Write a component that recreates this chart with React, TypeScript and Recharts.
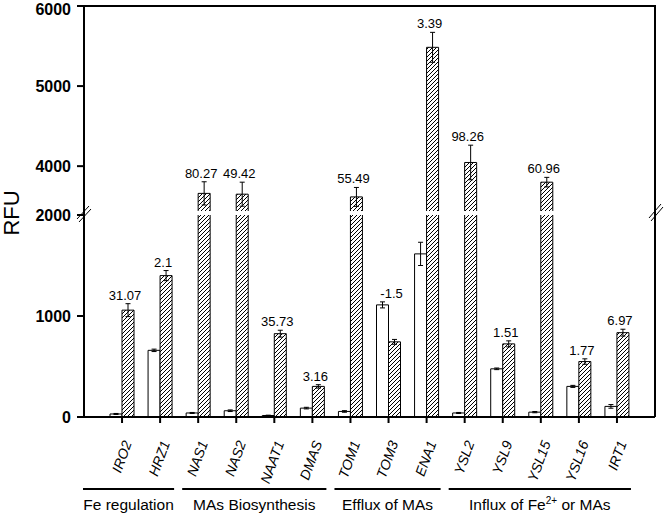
import React from "react";
import { ComposedChart, Bar, Line, XAxis, YAxis, ErrorBar, LabelList } from "recharts";

const genes = ["IRO2", "HRZ1", "NAS1", "NAS2", "NAAT1", "DMAS", "TOM1", "TOM3", "ENA1", "YSL2", "YSL9", "YSL15", "YSL16", "IRT1"];
// open bars (control)
const control = [30, 660, 40, 62, 15, 88, 55, 1110, 1615, 40, 477, 48, 303, 105];
const controlErr = [5, 12, 5, 8, 3, 8, 8, 30, 115, 5, 8, 6, 10, 18];
// hatched bars (-Fe)
const treated = [1058, 1400, 3660, 3650, 825, 303, 3616, 744, 5484, 4046, 724, 3800, 549, 835];
const treatedErr = [64, 50, 145, 150, 34, 17, 118, 24, 187, 216, 30, 60, 27, 34];
// fold change printed above each pair
const foldChange = ["31.07", "2.1", "80.27", "49.42", "35.73", "3.16", "55.49", "-1.5", "3.39", "98.26", "1.51", "60.96", "1.77", "6.97"];

const groupNames = ["Fe regulation", "MAs Biosynthesis", "Efflux of MAs", "Influx of Fe|2+| or MAs"];
const groupFirst = [0, 2, 6, 9];
const groupLast = [1, 5, 8, 13];

const lowerTicks = [0, 1000, 2000];
const upperTicks = [4000, 5000, 6000];
const BREAK_LOW = 2000;
const BREAK_HIGH = 3440;

const FONT = "Arial, 'Liberation Sans', sans-serif";
const W = 664;
const H = 515;
const PLOT_L = 84;
const PLOT_R = 655;
const X_PAD = 19;

const pairTop = (i: number) => Math.max(control[i] + controlErr[i], treated[i] + treatedErr[i]);

const lowerData = genes.map((name, i) => ({
  name,
  ctrl: control[i],
  ctrlErr: controlErr[i],
  fe: treated[i],
  feErr: treated[i] > BREAK_LOW ? undefined : treatedErr[i],
  top: pairTop(i) <= BREAK_LOW ? pairTop(i) : null,
  fold: pairTop(i) <= BREAK_LOW ? foldChange[i] : null,
}));

const upperData = genes.map((name, i) => ({
  name,
  ctrl: null,
  fe: treated[i] > BREAK_LOW ? treated[i] : null,
  feErr: treated[i] > BREAK_LOW ? treatedErr[i] : undefined,
  top: pairTop(i) > BREAK_LOW ? pairTop(i) : null,
  fold: pairTop(i) > BREAK_LOW ? foldChange[i] : null,
}));

// bar without a bottom edge, so broken bars stay open at the break
const OpenBar = (p: any) => {
  const { x, y, width, height, fill } = p;
  if (height == null || height <= 0 || isNaN(y)) return null;
  return (
    <g>
      <rect x={x} y={y} width={width} height={height} fill={fill} />
      <path d={`M${x},${y + height} V${y} H${x + width} V${y + height}`} stroke="#000" strokeWidth={1} fill="none" />
    </g>
  );
};

const FoldLabel = (p: any) => {
  const { x, y, value } = p;
  if (value == null || y == null || isNaN(y)) return null;
  return (
    <text x={x + 3} y={y - 4} textAnchor="middle" fontSize={13} fontFamily={FONT} fill="#000">
      {value}
    </text>
  );
};

const GeneTick = (p: any) => {
  const { x, y, payload } = p;
  return (
    <text
      transform={`translate(${x + 10},${y + 18}) rotate(-70)`}
      textAnchor="end"
      fontSize={14}
      fontStyle="italic"
      fontFamily={FONT}
      fill="#000"
    >
      {payload.value}
    </text>
  );
};

const yTickStyle = { fontSize: 16, fontWeight: "bold", fontFamily: FONT, fill: "#000" };

function Hatch({ id }: { id: string }) {
  return (
    <defs>
      <pattern id={id} patternUnits="userSpaceOnUse" width={4} height={4}>
        <rect width={4} height={4} fill="#fff" />
        <path d="M-1,1 l2,-2 M0,4 l4,-4 M3,5 l2,-2" stroke="#000" strokeWidth={1} />
      </pattern>
    </defs>
  );
}

function Overlay() {
  const band = (PLOT_R - PLOT_L - 2 * X_PAD) / genes.length;
  const cx = (i: number) => PLOT_L + X_PAD + band * (i + 0.5);
  return (
    <svg width={W} height={H} style={{ position: "absolute", left: 0, top: 0, pointerEvents: "none" }}>
      {/* frame */}
      <line x1={PLOT_L - 1} y1={6} x2={PLOT_R + 1} y2={6} stroke="#000" strokeWidth={2} />
      <line x1={PLOT_R} y1={6} x2={PLOT_R} y2={417} stroke="#000" strokeWidth={2} />
      <line x1={PLOT_L} y1={210} x2={PLOT_L} y2={216} stroke="#000" strokeWidth={2} />
      {/* axis break marks */}
      <path d="M77,219 L89,206 M79,222 L91,209" stroke="#000" strokeWidth={1} fill="none" />
      <path d="M649,218 L661,204 M651,221 L663,207" stroke="#000" strokeWidth={1} fill="none" />
      <text transform="translate(19,213) rotate(-90)" textAnchor="middle" fontSize={22} fontFamily={FONT} fill="#000">
        RFU
      </text>
      {groupNames.map((g, k) => {
        const x1 = groupFirst[k] === 0 ? PLOT_L - 1 : cx(groupFirst[k]) - 16;
        const x2 = cx(groupLast[k]) + 14;
        const parts = g.split("|");
        return (
          <g key={g}>
            <line x1={x1} y1={489} x2={x2} y2={489} stroke="#000" strokeWidth={2} />
            <text x={(x1 + x2) / 2} y={510} textAnchor="middle" fontSize={15.5} fontFamily={FONT} fill="#000">
              {parts[0]}
              {parts.length > 1 && (
                <tspan fontSize={10} dy={-6}>
                  {parts[1]}
                </tspan>
              )}
              {parts.length > 1 && <tspan dy={6}>{parts[2]}</tspan>}
            </text>
          </g>
        );
      })}
    </svg>
  );
}

export default function App() {
  return (
    <div style={{ position: "absolute", left: 0, top: 0, width: W, height: H, background: "#fff" }}>
      {/* lower panel: 0 - 2000 */}
      <div style={{ position: "absolute", left: 0, top: 0 }}>
        <ComposedChart width={W} height={H} data={lowerData} margin={{ top: 215, right: W - PLOT_R, left: 0, bottom: 28 }} barGap={0} barSize={12}>
          <Hatch id="hatchLower" />
          <XAxis
            dataKey="name"
            interval={0}
            height={70}
            padding={{ left: X_PAD, right: X_PAD }}
            tickSize={6}
            tickLine={{ stroke: "#000", strokeWidth: 2 }}
            axisLine={{ stroke: "#000", strokeWidth: 2 }}
            tick={<GeneTick />}
          />
          <YAxis
            width={PLOT_L}
            domain={[0, BREAK_LOW]}
            ticks={lowerTicks}
            allowDataOverflow
            tickSize={7}
            tickMargin={6}
            tickLine={{ stroke: "#000", strokeWidth: 2 }}
            axisLine={{ stroke: "#000", strokeWidth: 2 }}
            tick={yTickStyle}
          />
          <Bar dataKey="ctrl" fill="#fff" shape={<OpenBar />} isAnimationActive={false}>
            <ErrorBar dataKey="ctrlErr" width={2.5} stroke="#000" strokeWidth={1} />
          </Bar>
          <Bar dataKey="fe" fill="url(#hatchLower)" shape={<OpenBar />} isAnimationActive={false}>
            <ErrorBar dataKey="feErr" width={2.5} stroke="#000" strokeWidth={1} />
          </Bar>
          <Line dataKey="top" stroke="none" dot={false} activeDot={false} isAnimationActive={false}>
            <LabelList dataKey="fold" content={<FoldLabel />} />
          </Line>
        </ComposedChart>
      </div>
      {/* upper panel: 3440 - 6000 */}
      <div style={{ position: "absolute", left: 0, top: 0 }}>
        <ComposedChart width={W} height={213} data={upperData} margin={{ top: 6, right: W - PLOT_R, left: 0, bottom: 2 }} barGap={0} barSize={12}>
          <Hatch id="hatchUpper" />
          <XAxis dataKey="name" hide padding={{ left: X_PAD, right: X_PAD }} />
          <YAxis
            width={PLOT_L}
            domain={[BREAK_HIGH, 6000]}
            ticks={upperTicks}
            allowDataOverflow
            tickSize={7}
            tickMargin={6}
            tickLine={{ stroke: "#000", strokeWidth: 2 }}
            axisLine={{ stroke: "#000", strokeWidth: 2 }}
            tick={yTickStyle}
          />
          <Bar dataKey="ctrl" fill="#fff" shape={<OpenBar />} isAnimationActive={false} />
          <Bar dataKey="fe" fill="url(#hatchUpper)" shape={<OpenBar />} isAnimationActive={false}>
            <ErrorBar dataKey="feErr" width={2.5} stroke="#000" strokeWidth={1} />
          </Bar>
          <Line dataKey="top" stroke="none" dot={false} activeDot={false} isAnimationActive={false}>
            <LabelList dataKey="fold" content={<FoldLabel />} />
          </Line>
        </ComposedChart>
      </div>
      <Overlay />
    </div>
  );
}
